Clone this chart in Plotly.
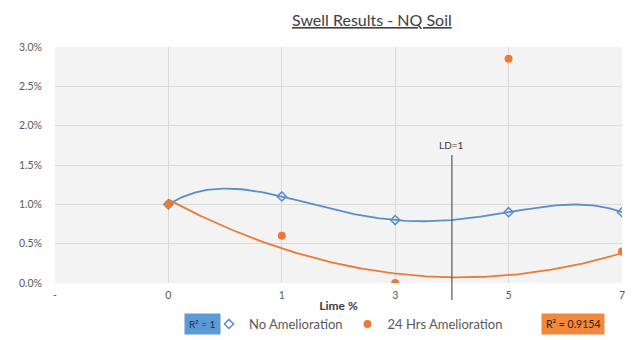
import numpy as np
import plotly.graph_objects as go

# Lime content categories (first slot is an empty placeholder on the axis)
categories = ["-", "0", "1", "3", "5", "7"]
lime_labels = ["0", "1", "3", "5", "7"]

# Swell (fraction) per lime content
no_amelioration = [0.010, 0.011, 0.008, 0.009, 0.009]
amelioration_24h = [0.010, 0.006, 0.000, 0.0285, 0.004]
# 24 h point left out of the trendline fit
trend_excluded = ["5"]

ld_label = "LD=1"
ld_between = ("3", "5")

BLUE = "#5b8dc9"
ORANGE = "#ea7a35"
GREY = "#595959"
FONT = "Lato, Liberation Sans, sans-serif"

W, H = 638, 340
L, R, T, B = 55, 16, 47, 57
pw, ph = W - L - R, H - T - B


def px_x(p):
    return (p - L) / pw


def px_y(p):
    return (H - B - p) / ph


xi = [categories.index(c) for c in lime_labels]


def trendline(x, y, order):
    coef = np.polyfit(x, y, order)
    xs = np.linspace(min(x), max(x), 200)
    return xs, np.polyval(coef, xs)


fig = go.Figure()

# Polynomial trendlines (drawn under markers)
bx, by = trendline(xi, no_amelioration, 4)
fig.add_trace(go.Scatter(x=bx, y=by, mode="lines", line=dict(color=BLUE, width=1.8),
                         showlegend=False, hoverinfo="skip"))
keep = [i for i, c in enumerate(lime_labels) if c not in trend_excluded]
ox, oy = trendline([xi[i] for i in keep], [amelioration_24h[i] for i in keep], 2)
fig.add_trace(go.Scatter(x=ox, y=oy, mode="lines", line=dict(color=ORANGE, width=1.8),
                         showlegend=False, hoverinfo="skip"))

fig.add_trace(go.Scatter(x=xi, y=no_amelioration, mode="markers", name="No Amelioration",
                         marker=dict(symbol="diamond-open", size=7, color=BLUE,
                                     line=dict(width=1.5, color=BLUE))))
fig.add_trace(go.Scatter(x=xi, y=amelioration_24h, mode="markers", name="24 Hrs Amelioration",
                         marker=dict(symbol="circle", size=8, color=ORANGE)))

# LD marker line between two lime contents
ld_x = (categories.index(ld_between[0]) + categories.index(ld_between[1])) / 2
fig.add_shape(type="line", xref="x", yref="paper", x0=ld_x, x1=ld_x,
              y0=px_y(300), y1=px_y(155), line=dict(color=GREY, width=1.2))
fig.add_annotation(x=ld_x, xref="x", y=px_y(155), yref="paper", text=ld_label,
                   showarrow=False, yanchor="bottom", yshift=2,
                   font=dict(size=10, color="#404040", family=FONT))

# Title
fig.add_annotation(x=px_x(372), xref="paper", xanchor="center", y=px_y(19), yref="paper",
                   yanchor="middle", text="<u>Swell Results - NQ Soil</u>", showarrow=False,
                   font=dict(size=16, color="#404040", family=FONT))

# R² labels placed beside the legend
fig.add_annotation(x=px_x(202), xref="paper", xanchor="center", y=px_y(324), yref="paper",
                   yanchor="middle", text="R² = 1", showarrow=False,
                   font=dict(size=10, color="#1f2d4a", family=FONT), bgcolor="#5b9bd5",
                   borderpad=4)
fig.add_annotation(x=px_x(573), xref="paper", xanchor="center", y=px_y(324), yref="paper",
                   yanchor="middle", text="R² = 0.9154", showarrow=False,
                   font=dict(size=10.5, color="#3a1f0a", family=FONT), bgcolor="#f0883e",
                   borderpad=4)

fig.update_layout(
    width=W, height=H,
    margin=dict(l=L, r=R, t=T, b=B, autoexpand=False),
    paper_bgcolor="white",
    plot_bgcolor="#f3f3f3",
    font=dict(family=FONT, size=10, color=GREY),
    showlegend=True,
    legend=dict(orientation="h", x=px_x(209), xanchor="left", y=px_y(324),
                yanchor="middle", font=dict(size=13, color=GREY), itemwidth=30,
                tracegroupgap=0, bgcolor="rgba(0,0,0,0)"),
    xaxis=dict(range=[0, len(categories) - 1], tickmode="array",
               tickvals=list(range(len(categories))), ticktext=categories,
               showgrid=True, gridcolor="#dadada", gridwidth=1, zeroline=False,
               showline=False, ticks="", ticklabelstandoff=4,
               tickfont=dict(size=10.5),
               title=dict(text="<b>Lime %</b>", standoff=2,
                          font=dict(size=12, color="#404040"))),
    yaxis=dict(range=[0, 0.03], dtick=0.005, tickformat=".1%",
               showgrid=True, gridcolor="#dadada", gridwidth=1, zeroline=False,
               showline=False, ticks="", ticklabelstandoff=12,
               tickfont=dict(size=10.5)),
)

fig.write_html("out.html")
